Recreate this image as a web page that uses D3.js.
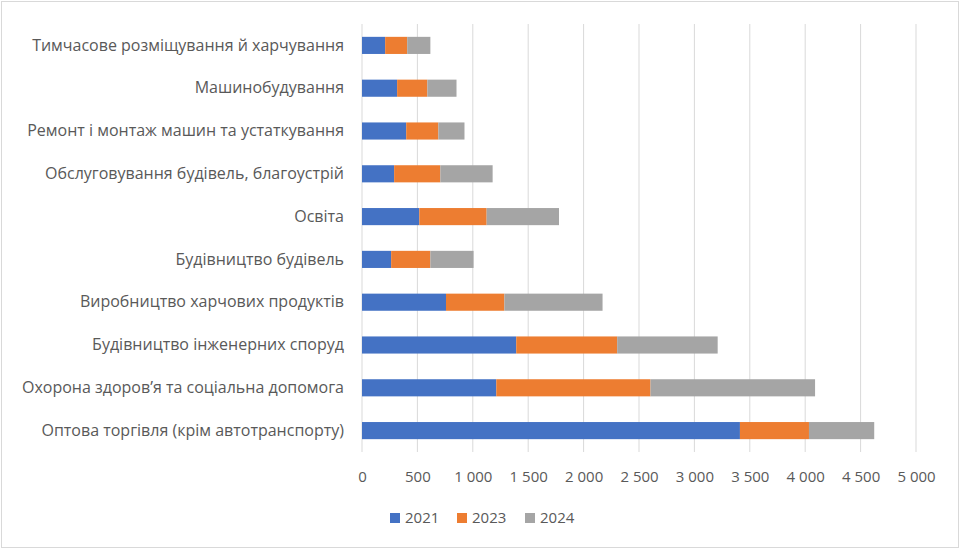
<!DOCTYPE html>
<html>
<head>
<meta charset="utf-8">
<script src="https://cdn.jsdelivr.net/npm/d3@7"></script>
<style>
  body { margin: 0; background: #fff; }
  text { font-family: "Open Sans", "Liberation Sans", sans-serif; fill: #595959; }
</style>
</head>
<body>
<div id="chart"></div>
<script>
var categories = [
    "Тимчасове розміщування й харчування",
    "Машинобудування",
    "Ремонт і монтаж машин та устаткування",
    "Обслуговування будівель, благоустрій",
    "Освіта",
    "Будівництво будівель",
    "Виробництво харчових продуктів",
    "Будівництво інженерних споруд",
    "Охорона здоров’я та соціальна допомога",
    "Оптова торгівля (крім автотранспорту)"
];
var years = ["2021", "2023", "2024"];
var values2021 = [209, 317, 399, 290, 517, 263, 758, 1392, 1212, 3411];
var values2023 = [199, 273, 290, 417, 608, 354, 527, 911, 1392, 623];
var values2024 = [209, 263, 236, 472, 653, 390, 886, 907, 1485, 589];
var xTicks = [0, 500, 1000, 1500, 2000, 2500, 3000, 3500, 4000, 4500, 5000];
var colors = ["#4472C4", "#ED7D31", "#A5A5A5"];

var W = 960, H = 549;
var margin = { top: 24, right: 44, bottom: 97, left: 362 };
var width = W - margin.left - margin.right,
    height = H - margin.top - margin.bottom;

var svg = d3.select("#chart").append("svg")
    .attr("width", W)
    .attr("height", H);

// chart border
svg.append("rect")
    .attr("x", 1.5).attr("y", 1.5)
    .attr("width", W - 3).attr("height", H - 3)
    .attr("fill", "#fff")
    .attr("stroke", "#D9D9D9")
    .attr("stroke-width", 1);

var g = svg.append("g")
    .attr("transform", "translate(" + margin.left + "," + margin.top + ")");

var x = d3.scaleLinear().domain([0, 5000]).range([0, width]);
var y = d3.scaleBand().domain(categories).range([0, height]).paddingInner(0.6).paddingOuter(0.3);

var fmt = function (d) { return d3.format(",")(d).replace(/,/g, " "); };

// gridlines
g.selectAll(".grid")
    .data(xTicks)
    .enter()
    .append("line")
    .attr("x1", function (d) { return x(d) })
    .attr("x2", function (d) { return x(d) })
    .attr("y1", 0)
    .attr("y2", height)
    .attr("stroke", "#D9D9D9")
    .attr("stroke-width", 1);

// stack
var rows = categories.map(function (c, i) {
    return { cat: c, "2021": values2021[i], "2023": values2023[i], "2024": values2024[i] };
});
var series = d3.stack().keys(years)(rows);

g.selectAll(".series")
    .data(series)
    .enter()
    .append("g")
    .attr("fill", function (d, i) { return colors[i] })
    .selectAll("rect")
    .data(function (d) { return d })
    .enter()
    .append("rect")
    .attr("x", function (d) { return x(d[0]) })
    .attr("width", function (d) { return x(d[1]) - x(d[0]) })
    .attr("y", function (d) { return y(d.data.cat) })
    .attr("height", y.bandwidth());

// x axis labels
var xAxis = g.append("g")
    .attr("transform", "translate(0," + height + ")")
    .call(d3.axisBottom(x).tickValues(xTicks).tickFormat(fmt).tickSize(0).tickPadding(19));
xAxis.select(".domain").remove();
xAxis.selectAll("text").style("font-size", "15px").attr("fill", "#595959");

// y axis labels
var yAxis = g.append("g")
    .call(d3.axisLeft(y).tickSize(0).tickPadding(18));
yAxis.select(".domain").remove();
yAxis.selectAll("text").style("font-size", "16px").attr("fill", "#595959");

// legend
var legend = svg.append("g")
    .attr("transform", "translate(390,518)");
var legendX = [0, 67, 135];
years.forEach(function (yr, i) {
    legend.append("rect")
        .attr("x", legendX[i]).attr("y", -5)
        .attr("width", 10).attr("height", 10)
        .attr("fill", colors[i]);
    legend.append("text")
        .attr("x", legendX[i] + 15).attr("y", 0)
        .attr("dy", "0.35em")
        .style("font-size", "15px")
        .text(yr);
});
</script>
</body>
</html>
